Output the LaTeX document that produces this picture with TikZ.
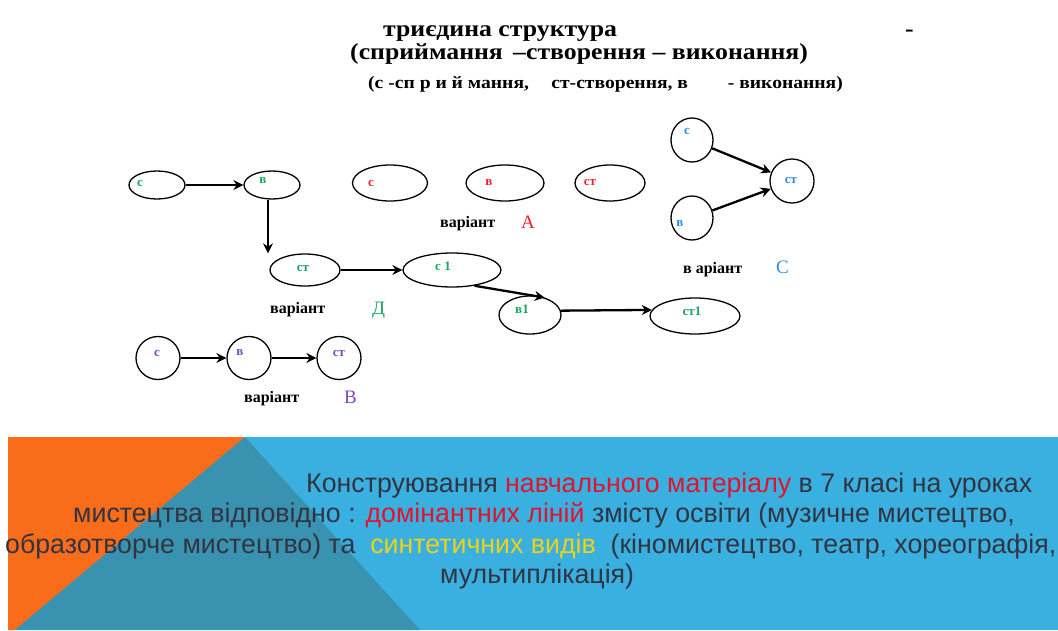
\documentclass[tikz,border=0pt]{standalone}
\usepackage{fontspec}
\setmainfont{Liberation Serif}
\newfontfamily\titlefont[FakeStretch=1.12]{Liberation Serif}
\newfontfamily\bannerfont[FakeStretch=0.99]{Liberation Sans}
\usepackage{xcolor}
\usetikzlibrary{arrows.meta,shapes.geometric}
\definecolor{bannerblue}{RGB}{58,176,224}
\definecolor{bannerteal}{RGB}{57,146,176}
\definecolor{bannerorange}{RGB}{249,108,26}
\definecolor{bannertext}{RGB}{50,52,66}
\definecolor{varD}{RGB}{20,165,95}
\definecolor{varA}{RGB}{240,30,50}
\definecolor{varC}{RGB}{40,140,230}
\definecolor{varB}{RGB}{130,70,190}
\definecolor{hired}{RGB}{225,20,45}
\definecolor{hiyellow}{RGB}{240,210,20}
\tikzset{
  ov/.style={draw, ellipse, line width=1.3pt, inner sep=0pt},
  lbl/.style={font=\fontsize{13}{13}\selectfont\bfseries, inner sep=0pt},
  arr/.style={line width=2.3pt, -{Stealth[length=10pt,width=10pt]}},
  vname/.style={font=\fontsize{16}{16}\selectfont\bfseries, inner sep=0pt, anchor=base west},
  vletter/.style={font=\fontsize{19}{19}\selectfont, inner sep=0pt, anchor=base west},
  tline/.style={inner sep=0pt, anchor=base west, font=\titlefont\fontsize{23}{23}\selectfont\bfseries},
  bline/.style={font=\bannerfont\fontsize{27}{27}\selectfont, text=bannertext, inner sep=0pt, anchor=base west},
}

\begin{document}
\begin{tikzpicture}[x=1pt,y=-1pt]
\useasboundingbox (0,0) rectangle (1058,630);

% banner
\fill[bannerblue] (8,437) rectangle (1058,630);
\fill[bannerorange] (8,437) -- (245,437) -- (15,630) -- (8,630) -- cycle;
\fill[bannerteal] (245,437) -- (15,630) -- (420,630) -- cycle;

    \node[bline] (b1) at (306,492) {Конструювання \textcolor{hired}{навчального матеріалу} в 7 класі на уроках};
    \node[bline] (b2) at (73,522) {мистецтва відповідно : \textcolor{hired}{домінантних ліній} змісту освіти (музичне мистецтво,};
    \node[bline] (b3) at (5,553) {образотворче мистецтво) та \ \textcolor{hiyellow}{синтетичних видів} \ (кіномистецтво, театр, хореографія,};
    \node[bline] (b4) at (440,583) {мультиплікація)};

% title
    \node[tline] (t1) at (383,36) {триєдина структура};
    \node[tline] (t0) at (905,36) {-};
    \node[tline] (t2) at (350,59) {(сприймання \,–створення – виконання)};
    \node[tline, font=\titlefont\fontsize{17.5}{17.5}\selectfont\bfseries] (t3) at (368,88) {(с -сп р и й мання, \quad ст-створення, в \qquad - виконання)};

% variant D
    \node[ov, minimum width=56, minimum height=28] (d1) at (157,185) {};
    \node[ov, minimum width=56, minimum height=28] (d2) at (272,185) {};
    \node[ov, minimum width=70, minimum height=32] (d3) at (305,270) {};
    \node[ov, minimum width=98, minimum height=34] (d4) at (452,270) {};
    \node[ov, minimum width=62, minimum height=38] (d5) at (530,315) {};
    \node[ov, minimum width=90, minimum height=36] (d6) at (695,316) {};
    \node[lbl, varD] (dl1) at (140,183) {с};
    \node[lbl, varD] (dl2) at (263,181) {в};
    \node[lbl, varD] (dl3) at (303,268) {ст};
    \node[lbl, varD] (dl4) at (443,266) {с 1};
    \node[lbl, varD] (dl5) at (522,309) {в1};
    \node[lbl, varD] (dl6) at (692,311) {ст1};
    \node[vname] (dv) at (270,313) {варіант};
    \node[vletter, varD] (dvl) at (372,314) {Д};

% variant A
    \node[ov, minimum width=75, minimum height=36] (a1) at (390,183) {};
    \node[ov, minimum width=78, minimum height=36] (a2) at (505,183) {};
    \node[ov, minimum width=70, minimum height=36] (a3) at (610,183) {};
    \node[lbl, varA] (al1) at (371,183) {с};
    \node[lbl, varA] (al2) at (489,183) {в};
    \node[lbl, varA] (al3) at (590,182) {ст};
    \node[vname] (av) at (440,227) {варіант};
    \node[vletter, varA] (avl) at (521,228) {А};

% variant C
    \node[ov, minimum width=42, minimum height=44] (c1) at (692,140) {};
    \node[ov, minimum width=42, minimum height=44] (c2) at (692,218) {};
    \node[ov, minimum width=44, minimum height=44] (c3) at (792,181) {};
    \node[lbl, varC] (cl1) at (687,131) {с};
    \node[lbl, varC] (cl2) at (680,224) {в};
    \node[lbl, varC] (cl3) at (791,180) {ст};
    \node[vname] (cv) at (683,273) {в аріант};
    \node[vletter, varC] (cvl) at (776,273) {С};

% variant B
    \node[ov, minimum width=44, minimum height=43] (v1) at (158,358) {};
    \node[ov, minimum width=44, minimum height=43] (v2) at (249,358) {};
    \node[ov, minimum width=44, minimum height=43] (v3) at (339,358) {};
    \node[lbl, varB] (vl1) at (157,353) {с};
    \node[lbl, varB] (vl2) at (240,353) {в};
    \node[lbl, varB] (vl3) at (339,353) {ст};
    \node[vname] (bv) at (244,402) {варіант};
    \node[vletter, varB] (bvl) at (344,403) {В};

    % draw the arrows
    \draw[arr] (d1) -- (d2);
    \draw[arr] ([xshift=-4pt]d2.south) -- ([xshift=-4pt]d2.south |- d3.north);
    \draw[arr] (d3) -- (d4);
    \draw[arr] (d4.-35) -- (d5.50);
    \draw[arr] (d5.8) -- (d6.172);
    \draw[arr] (c1) -- (c3);
    \draw[arr] (c2) -- (c3);
    \draw[arr] (v1) -- (v2);
    \draw[arr] (v2) -- (v3);

\end{tikzpicture}
\end{document}
